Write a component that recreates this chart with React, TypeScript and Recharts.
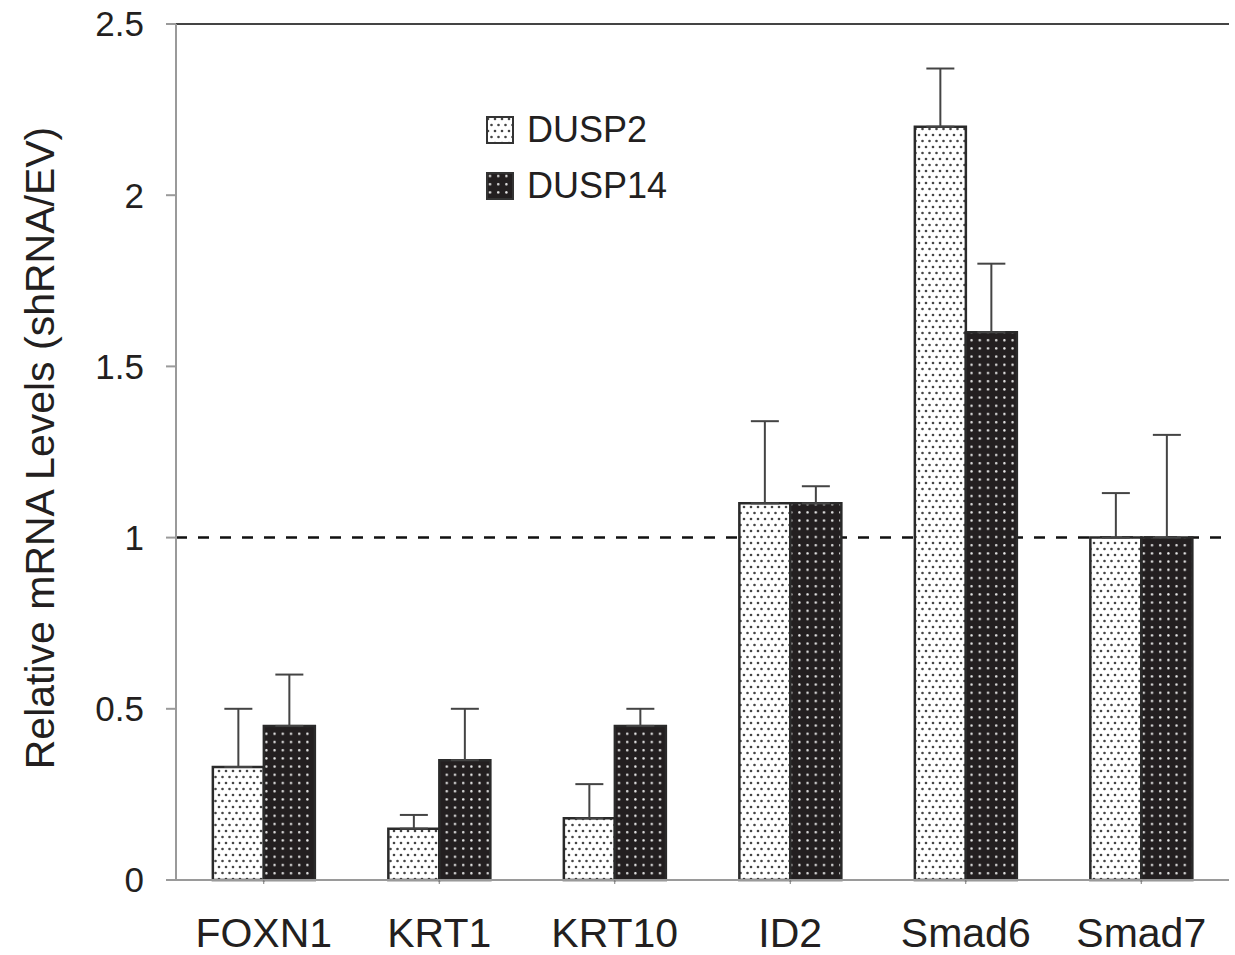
import React from "react";
import {
  BarChart,
  Bar,
  XAxis,
  YAxis,
  ErrorBar,
  ReferenceLine,
} from "recharts";

const categories = ["FOXN1", "KRT1", "KRT10", "ID2", "Smad6", "Smad7"];
const dusp2 = [0.33, 0.15, 0.18, 1.1, 2.2, 1.0];
const dusp2Err = [0.17, 0.04, 0.1, 0.24, 0.17, 0.13];
const dusp14 = [0.45, 0.35, 0.45, 1.1, 1.6, 1.0];
const dusp14Err = [0.15, 0.15, 0.05, 0.05, 0.2, 0.3];
const yTicks = [0, 0.5, 1, 1.5, 2, 2.5];

const data = categories.map((name, i) => ({
  name,
  dusp2: dusp2[i],
  dusp2Err: [0, dusp2Err[i]],
  dusp14: dusp14[i],
  dusp14Err: [0, dusp14Err[i]],
}));

const FONT = "'Liberation Sans', Arial, sans-serif";

function LegendBox() {
  const items = [
    { label: "DUSP2", fill: "url(#patDusp2)" },
    { label: "DUSP14", fill: "url(#patDusp14)" },
  ];
  return (
    <div
      style={{
        position: "absolute",
        left: 486,
        top: 102,
        fontFamily: FONT,
        fontSize: 36,
        color: "#231f20",
      }}
    >
      {items.map((it) => (
        <div
          key={it.label}
          style={{ display: "flex", alignItems: "center", height: 56 }}
        >
          <svg width={28} height={28} style={{ marginRight: 13 }}>
            <rect
              x={1}
              y={1}
              width={26}
              height={26}
              fill={it.fill}
              stroke="#333"
              strokeWidth={2}
            />
          </svg>
          <span>{it.label}</span>
        </div>
      ))}
    </div>
  );
}

export default function App(): React.ReactElement {
  return (
    <div
      style={{
        position: "absolute",
        left: 0,
        top: 0,
        width: 1235,
        height: 955,
        background: "#fff",
      }}
    >
      <BarChart
        width={1235}
        height={955}
        data={data}
        margin={{ top: 24, right: 6, bottom: 0, left: 0 }}
        barCategoryGap="21%"
        barGap={0}
      >
        <defs>
          <pattern
            id="patDusp2"
            patternUnits="userSpaceOnUse"
            width={7}
            height={12}
          >
            <rect width={7} height={12} fill="#fff" />
            <circle cx={2} cy={3} r={1.3} fill="#444" />
            <circle cx={5.5} cy={9} r={1.3} fill="#444" />
          </pattern>
          <pattern
            id="patDusp14"
            patternUnits="userSpaceOnUse"
            width={8.2}
            height={8.2}
          >
            <rect width={8.2} height={8.2} fill="#231f20" />
            <circle cx={4} cy={4} r={1.2} fill="#e8e8e8" />
          </pattern>
        </defs>
        <XAxis
          dataKey="name"
          height={75}
          tickSize={4}
          tickMargin={34}
          axisLine={{ stroke: "#9a9a9a", strokeWidth: 2 }}
          tickLine={{ stroke: "#777" }}
          tick={{ fontFamily: FONT, fontSize: 41, fill: "#231f20" }}
          interval={0}
        />
        <YAxis
          yAxisId="left"
          domain={[0, 2.5]}
          ticks={yTicks}
          width={176}
          tickSize={10}
          tickMargin={22}
          axisLine={{ stroke: "#9a9a9a", strokeWidth: 2 }}
          tickLine={{ stroke: "#9a9a9a", strokeWidth: 2 }}
          tick={{ fontFamily: FONT, fontSize: 35, fill: "#231f20" }}
          tickFormatter={(v: number) => String(v)}
          label={{
            content: () => (
              <text
                x={40}
                y={448}
                transform="rotate(-90 40 448)"
                textAnchor="middle"
                dominantBaseline="central"
                fontFamily={FONT}
                fontSize={41}
                fill="#231f20"
              >
                Relative mRNA Levels (shRNA/EV)
              </text>
            ),
          }}
        />
        <YAxis
          yAxisId="right"
          orientation="right"
          domain={[0, 2.5]}
          width={0}
          tick={false}
          tickLine={false}
          axisLine={{ stroke: "#444", strokeWidth: 2 }}
        />
        <ReferenceLine
          yAxisId="left"
          y={2.5}
          stroke="#444"
          strokeWidth={2}
        />
        <ReferenceLine
          yAxisId="left"
          y={1}
          stroke="#111"
          strokeWidth={2.5}
          strokeDasharray="11 11"
          zIndex={100}
        />
        <Bar
          yAxisId="left"
          dataKey="dusp2"
          name="DUSP2"
          fill="url(#patDusp2)"
          stroke="#2a2a2a"
          strokeWidth={2.5}
          isAnimationActive={false}
        >
          <ErrorBar
            dataKey="dusp2Err"
            direction="y"
            width={14}
            stroke="#444"
            strokeWidth={2}
          />
        </Bar>
        <Bar
          yAxisId="left"
          dataKey="dusp14"
          name="DUSP14"
          fill="url(#patDusp14)"
          stroke="#2a2a2a"
          strokeWidth={2.5}
          isAnimationActive={false}
        >
          <ErrorBar
            dataKey="dusp14Err"
            direction="y"
            width={14}
            stroke="#444"
            strokeWidth={2}
          />
        </Bar>
      </BarChart>
      <LegendBox />
    </div>
  );
}
